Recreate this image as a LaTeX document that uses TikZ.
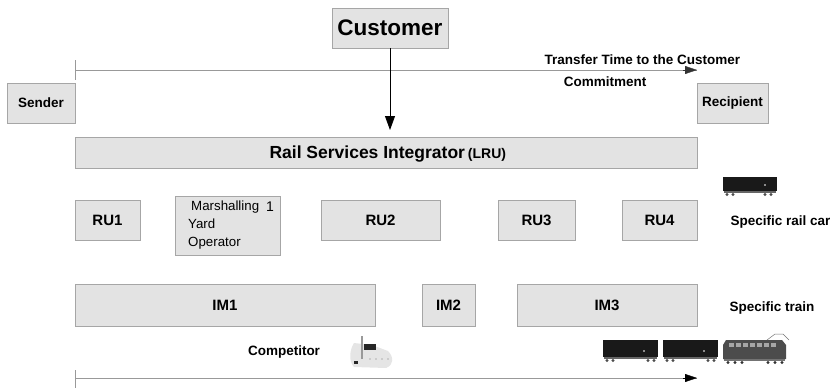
\documentclass[tikz,border=0pt]{standalone}
\usepackage{fontspec}
\setmainfont{Liberation Sans}
\usetikzlibrary{arrows.meta}
\begin{document}
\begin{tikzpicture}[x=1pt,y=-1pt,
  box/.style={draw=black!35,fill=black!11,line width=0.8pt,inner sep=0pt},
  lbl/.style={font=\bfseries\fontsize{15}{17}\selectfont},
  smalltxt/.style={font=\bfseries\fontsize{13.5}{16}\selectfont},
  sidetxt/.style={smalltxt,anchor=west},
  axis/.style={draw=black!40,line width=0.9pt}
]
\useasboundingbox (0,0) rectangle (830,388);

% Customer and the time axis
\node[box,minimum width=116pt,minimum height=40pt,font=\bfseries\fontsize{22.5}{26}\selectfont] (cust) at (390,28) {Customer};
\coordinate (topL) at (75,70);
\coordinate (topR) at (697,70);
\draw[axis] (topL) -- (topR);
\draw[black!80,-{Triangle[length=12pt,width=8pt]}] (topR) ++(-14,0) -- (topR);
\draw[axis] (75,60) -- (75,80);
\node[smalltxt,anchor=west] (ttc) at (541,60) {Transfer Time to the Customer};
\node[smalltxt] (comm) at (605,82) {Commitment};

\node[box,minimum width=68pt,minimum height=40pt,smalltxt] (send) at (41,103) {Sender};
\node[box,minimum width=71pt,minimum height=40pt,smalltxt] (recp) at (732.5,103) {Recipient};

% Integrator
\node[box,minimum width=622pt,minimum height=31pt] (rsi) at (386,153) {};
\node[font=\bfseries\fontsize{17.5}{20}\selectfont,anchor=west] (rsit) at (266,154) {Rail Services Integrator\,{\fontsize{14}{16}\selectfont(LRU)}};
\draw[black,line width=0.8pt,-{Triangle[length=14pt,width=10pt]}] (cust.south) -- (cust.south |- 0,130);

% Railway undertakings
\node[box,lbl,minimum width=65pt,minimum height=40pt] (ru1) at (107.5,220) {RU1};
\node[box,minimum width=105pt,minimum height=59pt] (msy) at (227.5,225.5) {};
\node[anchor=north west,align=left,font=\fontsize{13.3}{18}\selectfont,inner sep=0pt] (msyt) at (188,200.5) {\hspace{3pt}Marshalling\\Yard\\Operator};
\node[font=\fontsize{14}{16}\selectfont,inner sep=0pt] (msyn) at (270,207) {1};
\node[box,lbl,minimum width=119pt,minimum height=40pt] (ru2) at (380.5,220) {RU2};
\node[box,lbl,minimum width=77pt,minimum height=40pt] (ru3) at (536.5,220) {RU3};
\node[box,lbl,minimum width=75pt,minimum height=40pt] (ru4) at (659.5,220) {RU4};

% Infrastructure managers
\node[box,lbl,minimum width=300pt,minimum height=42pt] (im1) at (225,305) {IM1};
\node[box,lbl,minimum width=53pt,minimum height=42pt] (im2) at (448.5,305) {IM2};
\node[box,lbl,minimum width=180pt,minimum height=42pt] (im3) at (607,305) {IM3};

\node[sidetxt] (src) at (727,222) {Specific rail car};
\node[sidetxt] (stn) at (726,308) {Specific train};
\node[smalltxt] (comp) at (284,352) {Competitor};

% Bottom axis
\coordinate (botL) at (75,378);
\coordinate (botR) at (697,378);
\draw[axis] (botL) -- (botR);
\draw[black,-{Triangle[length=12pt,width=8pt]}] (botR) ++(-14,0) -- (botR);
\draw[axis] (75,370) -- (75,388);

% Rail car icon
\begin{scope}[shift={(723,177)}]
  \fill[black!90] (0,0) rectangle (54,14);
  \fill[black!60] (1,14) rectangle (53,16);
  \foreach \w in {4,10,42,48} \fill[black!70] (\w,17.5) circle (1.6);
  \fill[white] (42,8) circle (0.8);
\end{scope}

% Train icon: two wagons and a locomotive
\foreach \sx in {603,663} {
  \begin{scope}[shift={(\sx,340)}]
    \fill[black!90] (0,0) rectangle (55,17);
    \fill[black!60] (1,17) rectangle (54,19);
    \foreach \w in {4,10,45,51} \fill[black!70] (\w,20.5) circle (1.6);
    \fill[white] (41,11) circle (0.9);
  \end{scope}
}
\begin{scope}[shift={(723,340)}]
  \fill[black!70] (3,0) -- (59,0) -- (63,5) -- (63,19) -- (0,19) -- (0,5) -- cycle;
  \foreach \wx in {6,13,20,27,34,41,48} \fill[black!35] (\wx,3) rectangle ++(5,4);
  \fill[black!55] (1,19) rectangle (62,21);
  \foreach \w in {5,12,19,45,52,59} \fill[black!80] (\w,22.5) circle (1.7);
  \draw[black!55,line width=0.5pt] (44,0) -- (52,-6) -- (60,-6) -- (66,0);
\end{scope}

% Truck icon
\begin{scope}[shift={(348,335)}]
  \fill[black!10] (6,8) .. controls (2,14) and (0,26) .. (6,32) -- (38,33) .. controls (46,30) and (46,22) .. (40,16) -- (24,10) -- cycle;
  \fill[black!40] (13,1) rectangle (15,24);
  \fill[black!85] (16,9) rectangle (28,15);
  \fill[black!85] (6,26) rectangle (10,29);
  \foreach \d in {22,28,34,40} \fill[black!30] (\d,24) circle (0.9);
\end{scope}
\end{tikzpicture}
\end{document}
